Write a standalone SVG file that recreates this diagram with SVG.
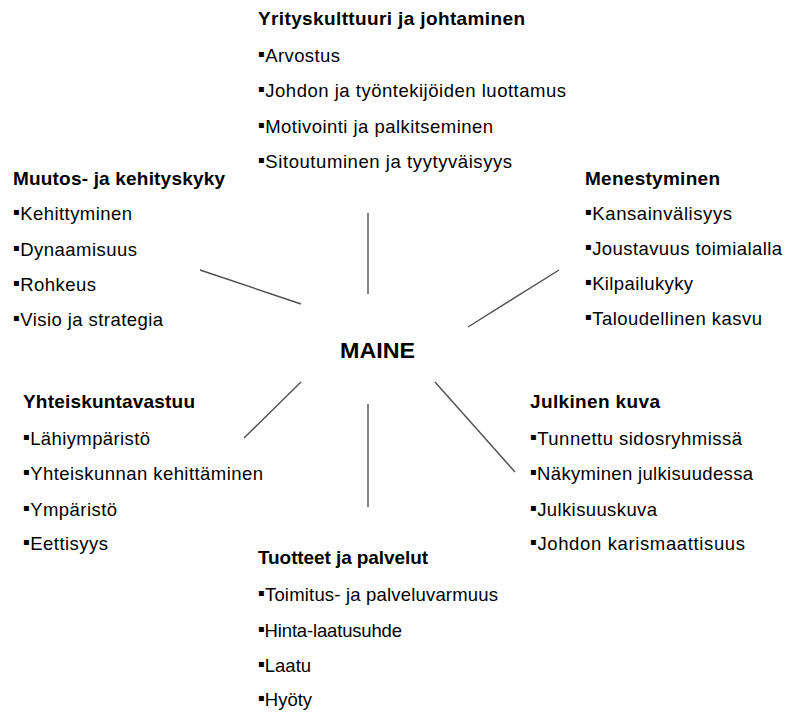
<svg xmlns="http://www.w3.org/2000/svg" width="785" height="715" viewBox="0 0 785 715">
<style>
text{font-family:"Liberation Sans",Arial,sans-serif;fill:#000}
.t{font-size:19px;font-weight:bold}
.i{font-size:18.5px}
.b{font-size:10px;font-family:"DejaVu Sans",sans-serif}
.m{font-size:22px;font-weight:bold}
.c line{stroke:#505050;stroke-width:1.4}
</style>
<rect width="785" height="715" fill="#fff"/>
<g class="c" id="connectors">
<line x1="368" y1="213" x2="368" y2="294"/>
<line x1="200" y1="270" x2="301" y2="304"/>
<line x1="468" y1="327" x2="559" y2="270"/>
<line x1="244" y1="438" x2="301" y2="382"/>
<line x1="368" y1="404" x2="368" y2="507"/>
<line x1="435" y1="382" x2="515" y2="472"/>
</g>
<g id="center"><text class="m" x="340" y="358" textLength="75" lengthAdjust="spacingAndGlyphs">MAINE</text></g>
<g id="yrityskulttuuri">
<text class="t" x="258" y="25" textLength="267" lengthAdjust="spacing">Yrityskulttuuri ja johtaminen</text>
<text class="i" x="258" y="62" textLength="82" lengthAdjust="spacing"><tspan class="b" dy="-5">▪</tspan><tspan dy="5">Arvostus</tspan></text>
<text class="i" x="258" y="97" textLength="308" lengthAdjust="spacing"><tspan class="b" dy="-5">▪</tspan><tspan dy="5">Johdon ja työntekijöiden luottamus</tspan></text>
<text class="i" x="258" y="133" textLength="235" lengthAdjust="spacing"><tspan class="b" dy="-5">▪</tspan><tspan dy="5">Motivointi ja palkitseminen</tspan></text>
<text class="i" x="258" y="168" textLength="254" lengthAdjust="spacing"><tspan class="b" dy="-5">▪</tspan><tspan dy="5">Sitoutuminen ja tyytyväisyys</tspan></text>
</g>
<g id="muutos">
<text class="t" x="13" y="185" textLength="212" lengthAdjust="spacing">Muutos- ja kehityskyky</text>
<text class="i" x="13" y="220" textLength="119" lengthAdjust="spacing"><tspan class="b" dy="-5">▪</tspan><tspan dy="5">Kehittyminen</tspan></text>
<text class="i" x="13" y="256" textLength="124" lengthAdjust="spacing"><tspan class="b" dy="-5">▪</tspan><tspan dy="5">Dynaamisuus</tspan></text>
<text class="i" x="13" y="291" textLength="83" lengthAdjust="spacing"><tspan class="b" dy="-5">▪</tspan><tspan dy="5">Rohkeus</tspan></text>
<text class="i" x="13" y="326" textLength="150" lengthAdjust="spacing"><tspan class="b" dy="-5">▪</tspan><tspan dy="5">Visio ja strategia</tspan></text>
</g>
<g id="menestyminen">
<text class="t" x="585" y="185" textLength="135" lengthAdjust="spacing">Menestyminen</text>
<text class="i" x="585" y="220" textLength="147" lengthAdjust="spacing"><tspan class="b" dy="-5">▪</tspan><tspan dy="5">Kansainvälisyys</tspan></text>
<text class="i" x="585" y="255" textLength="197" lengthAdjust="spacing"><tspan class="b" dy="-5">▪</tspan><tspan dy="5">Joustavuus toimialalla</tspan></text>
<text class="i" x="585" y="290" textLength="108" lengthAdjust="spacing"><tspan class="b" dy="-5">▪</tspan><tspan dy="5">Kilpailukyky</tspan></text>
<text class="i" x="585" y="325" textLength="177" lengthAdjust="spacing"><tspan class="b" dy="-5">▪</tspan><tspan dy="5">Taloudellinen kasvu</tspan></text>
</g>
<g id="yhteiskuntavastuu">
<text class="t" x="23" y="408" textLength="172" lengthAdjust="spacing">Yhteiskuntavastuu</text>
<text class="i" x="23" y="445" textLength="127" lengthAdjust="spacing"><tspan class="b" dy="-5">▪</tspan><tspan dy="5">Lähiympäristö</tspan></text>
<text class="i" x="23" y="480" textLength="240" lengthAdjust="spacing"><tspan class="b" dy="-5">▪</tspan><tspan dy="5">Yhteiskunnan kehittäminen</tspan></text>
<text class="i" x="23" y="516" textLength="94" lengthAdjust="spacing"><tspan class="b" dy="-5">▪</tspan><tspan dy="5">Ympäristö</tspan></text>
<text class="i" x="23" y="550" textLength="85" lengthAdjust="spacing"><tspan class="b" dy="-5">▪</tspan><tspan dy="5">Eettisyys</tspan></text>
</g>
<g id="julkinen">
<text class="t" x="530" y="408" textLength="130" lengthAdjust="spacing">Julkinen kuva</text>
<text class="i" x="530" y="445" textLength="212" lengthAdjust="spacing"><tspan class="b" dy="-5">▪</tspan><tspan dy="5">Tunnettu sidosryhmissä</tspan></text>
<text class="i" x="530" y="480" textLength="223" lengthAdjust="spacing"><tspan class="b" dy="-5">▪</tspan><tspan dy="5">Näkyminen julkisuudessa</tspan></text>
<text class="i" x="530" y="516" textLength="127" lengthAdjust="spacing"><tspan class="b" dy="-5">▪</tspan><tspan dy="5">Julkisuuskuva</tspan></text>
<text class="i" x="530" y="550" textLength="215" lengthAdjust="spacing"><tspan class="b" dy="-5">▪</tspan><tspan dy="5">Johdon karismaattisuus</tspan></text>
</g>
<g id="tuotteet">
<text class="t" x="258" y="564" textLength="170" lengthAdjust="spacing">Tuotteet ja palvelut</text>
<text class="i" x="258" y="601" textLength="240" lengthAdjust="spacing"><tspan class="b" dy="-5">▪</tspan><tspan dy="5">Toimitus- ja palveluvarmuus</tspan></text>
<text class="i" x="258" y="637" textLength="144" lengthAdjust="spacing"><tspan class="b" dy="-5">▪</tspan><tspan dy="5">Hinta-laatusuhde</tspan></text>
<text class="i" x="258" y="672"><tspan class="b" dy="-5">▪</tspan><tspan dy="5">Laatu</tspan></text>
<text class="i" x="258" y="706"><tspan class="b" dy="-5">▪</tspan><tspan dy="5">Hyöty</tspan></text>
</g>
</svg>
